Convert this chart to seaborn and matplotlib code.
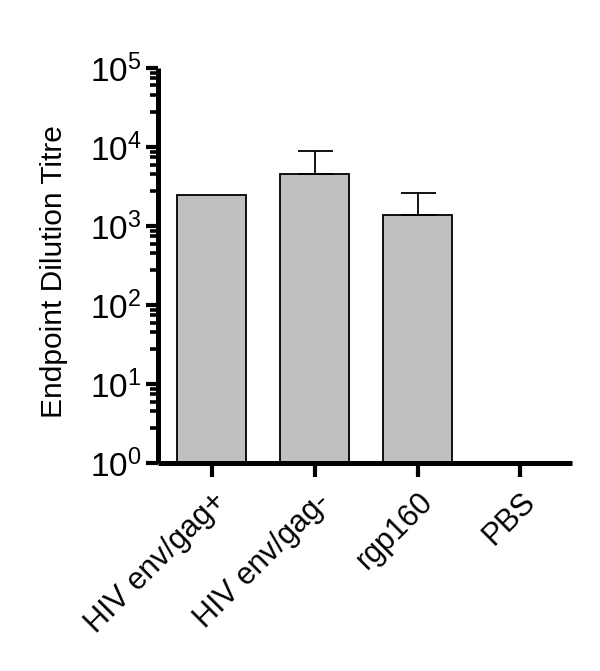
import numpy as np
import pandas as pd
import matplotlib
matplotlib.use('Agg')
import matplotlib.pyplot as plt
import matplotlib.ticker as mticker
import seaborn as sns

# values (log scale)
groups = ["HIV env/gag+", "HIV env/gag-", "rgp160", "PBS"]
titres = [2500, 4500, 1380, np.nan]
err_up = [0, 4400, 1270, 0]

sns.set_style("ticks", {"axes.edgecolor": "black", "xtick.color": "black",
                        "ytick.color": "black", "text.color": "black",
                        "axes.labelcolor": "black"})
plt.rcParams['font.family'] = ['Liberation Sans', 'DejaVu Sans']
plt.rcParams['mathtext.fontset'] = 'custom'
plt.rcParams['mathtext.rm'] = 'Liberation Sans'

df = pd.DataFrame({"group": groups, "titre": titres})

fig = plt.figure(figsize=(6.0, 6.71), dpi=100)
ax = fig.add_axes([0.2633, 0.310, 0.69, 0.5887])
ax.set_yscale('log')

sns.barplot(data=df, x="group", y="titre", order=groups, color="#c0c0c0",
            saturation=1, width=0.67, edgecolor="black", linewidth=1.3,
            errorbar=None, ax=ax)

# upper-only error bars
xs = np.arange(len(groups))
for x, v, e in zip(xs, titres, err_up):
    if e > 0 and not np.isnan(v):
        ax.errorbar(x, v, yerr=[[0], [e]], fmt='none', ecolor='black',
                    elinewidth=1.3, capsize=12.6, capthick=1.3, zorder=5)

ax.set_ylim(1, 1e5)
ax.set_xlim(-0.52, 3.5)
ax.yaxis.set_major_locator(mticker.LogLocator(base=10, numticks=10))
ax.yaxis.set_minor_locator(mticker.LogLocator(base=10, subs=(2.75, 4.5, 6.0, 7.5, 8.6), numticks=10))
ax.yaxis.set_minor_formatter(mticker.NullFormatter())

sns.despine(ax=ax)
for side in ['left', 'bottom']:
    ax.spines[side].set_linewidth(3.6)
    ax.spines[side].set_capstyle('butt')

ax.tick_params(axis='y', which='major', length=9, width=3, labelsize=24, pad=3)
ax.tick_params(axis='y', which='minor', length=6, width=2.6)
ax.tick_params(axis='x', which='major', length=10, width=3, labelsize=22, pad=7)

ax.set_xlabel("")
ax.set_ylabel("Endpoint Dilution Titre", fontsize=21.5)
ax.yaxis.set_label_coords(-0.217, 0.484)

for lbl in ax.get_xticklabels():
    lbl.set_rotation(45)
    lbl.set_ha('right')
    lbl.set_va('top')
    lbl.set_rotation_mode('anchor')

fig.savefig("out.png", dpi=100)
